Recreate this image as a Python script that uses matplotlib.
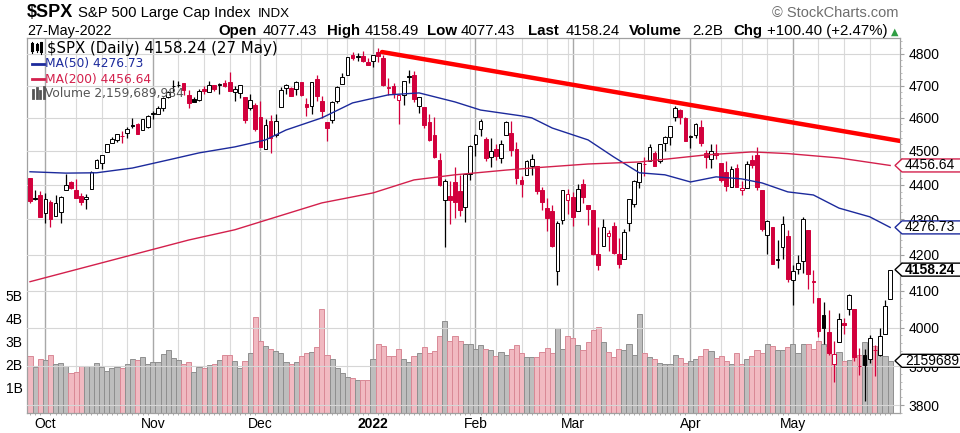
import matplotlib
matplotlib.use('Agg')
import matplotlib.pyplot as plt
from matplotlib.patches import Polygon
from matplotlib.lines import Line2D
from matplotlib.ticker import FixedLocator, NullFormatter
import numpy as np
import pandas as pd

W, H = 960, 433
PLOT_L, PLOT_R, PLOT_T, PLOT_B = 27, 900, 38, 413

# trading days shown (NYSE holidays removed)
HOLIDAYS = ['2021-11-25', '2021-12-24', '2022-01-17', '2022-02-21', '2022-04-15']
dates = pd.bdate_range('2021-09-28', '2022-05-27')
dates = dates[~dates.isin(pd.to_datetime(HOLIDAYS))]

opens = [4419.54, 4362.41, 4370.67, 4317.16, 4348.84, 4309.87, 4319.57, 4383.73, 4406.51, 4385.44,
         4368.31, 4358.01, 4386.75, 4447.69, 4463.72, 4497.34, 4524.42, 4532.24, 4546.12, 4553.69,
         4578.69, 4580.22, 4562.84, 4572.87, 4610.62, 4613.34, 4630.65, 4662.93, 4699.26, 4701.48,
         4707.25, 4670.26, 4659.39, 4655.24, 4689.30, 4679.42, 4701.50, 4700.72, 4708.44, 4712.00,
         4678.48, 4675.78, 4664.63, 4628.75, 4640.25, 4602.82, 4504.73, 4589.49, 4548.37, 4631.97,
         4690.86, 4691.00, 4687.64, 4710.30, 4642.99, 4636.46, 4719.13, 4652.50, 4587.90, 4594.96,
         4650.36, 4703.96, 4733.99, 4795.49, 4788.64, 4794.23, 4775.21, 4778.14, 4804.51, 4787.99,
         4693.39, 4697.66, 4655.34, 4669.14, 4728.59, 4733.56, 4637.99, 4632.24, 4588.03, 4547.35,
         4471.38, 4356.32, 4366.64, 4408.43, 4380.58, 4336.19, 4431.79, 4519.57, 4566.39, 4535.41,
         4482.79, 4505.75, 4480.02, 4547.00, 4553.24, 4506.27, 4412.61, 4429.28, 4455.75, 4456.06,
         4384.57, 4332.74, 4324.93, 4155.77, 4298.38, 4354.17, 4363.14, 4322.56, 4401.31, 4342.12,
         4327.01, 4202.66, 4223.10, 4252.55, 4279.50, 4202.75, 4188.82, 4288.14, 4345.11, 4407.34,
         4462.40, 4469.10, 4493.10, 4469.98, 4522.66, 4541.09, 4602.86, 4624.20, 4599.02, 4540.32,
         4547.97, 4572.45, 4494.17, 4474.65, 4494.15, 4462.64, 4437.59, 4394.30, 4449.12, 4385.63,
         4390.63, 4472.26, 4489.17, 4385.83, 4255.34, 4278.14, 4186.52, 4222.58, 4253.75, 4130.61,
         4159.78, 4181.18, 4270.43, 4128.17, 4081.27, 4035.18, 3990.08, 3903.95, 3963.90, 4013.02,
         4052.00, 4051.98, 3899.00, 3927.76, 3919.42, 3942.94, 3929.59, 3984.60, 4077.43]
highs = [4419.54, 4385.57, 4382.55, 4375.19, 4355.51, 4369.23, 4365.57, 4429.97, 4412.02, 4415.88,
         4374.89, 4372.87, 4439.73, 4475.82, 4488.75, 4520.40, 4540.87, 4551.44, 4559.67, 4572.62,
         4598.53, 4584.57, 4597.55, 4608.08, 4620.34, 4635.15, 4663.46, 4683.00, 4718.50, 4714.92,
         4708.53, 4684.85, 4664.55, 4688.47, 4697.42, 4714.95, 4701.50, 4708.80, 4717.75, 4743.83,
         4699.39, 4702.87, 4664.63, 4672.95, 4646.02, 4652.94, 4595.46, 4608.03, 4612.60, 4694.04,
         4705.06, 4695.26, 4713.57, 4710.30, 4660.47, 4712.60, 4731.99, 4666.70, 4587.90, 4651.14,
         4697.67, 4740.74, 4791.49, 4807.02, 4804.06, 4808.93, 4786.83, 4796.64, 4818.62, 4797.70,
         4725.01, 4707.95, 4673.02, 4714.13, 4748.83, 4744.13, 4665.13, 4632.24, 4611.55, 4602.11,
         4494.52, 4417.35, 4411.01, 4453.23, 4428.74, 4432.72, 4516.89, 4550.49, 4595.31, 4542.88,
         4539.66, 4521.86, 4531.32, 4590.03, 4588.92, 4526.33, 4426.22, 4472.77, 4489.55, 4456.06,
         4394.60, 4362.12, 4341.51, 4294.73, 4385.34, 4388.84, 4378.45, 4401.48, 4416.78, 4342.12,
         4327.01, 4276.94, 4299.40, 4268.28, 4291.01, 4247.57, 4271.05, 4357.86, 4412.67, 4465.40,
         4481.75, 4522.00, 4501.07, 4520.58, 4546.03, 4575.65, 4637.30, 4627.77, 4603.07, 4548.70,
         4583.50, 4593.45, 4503.94, 4521.16, 4520.41, 4464.35, 4471.00, 4453.92, 4460.46, 4410.31,
         4471.03, 4488.29, 4512.94, 4385.83, 4299.02, 4278.14, 4240.71, 4308.45, 4269.68, 4169.81,
         4200.10, 4307.66, 4270.43, 4157.69, 4081.27, 4068.82, 4049.09, 3964.80, 4038.88, 4026.97,
         4090.72, 4051.98, 3945.96, 3943.42, 3981.88, 3955.68, 3999.33, 4075.14, 4158.49]
lows = [4346.33, 4355.08, 4306.24, 4288.52, 4278.94, 4309.87, 4290.49, 4383.73, 4386.22, 4360.59,
        4342.09, 4329.92, 4386.75, 4447.69, 4447.47, 4496.41, 4524.40, 4526.89, 4524.00, 4537.36,
        4569.17, 4551.66, 4562.84, 4567.59, 4595.06, 4613.34, 4621.19, 4662.59, 4681.32, 4694.39,
        4670.87, 4630.86, 4648.31, 4650.77, 4672.86, 4679.42, 4684.41, 4672.78, 4694.22, 4682.17,
        4652.66, 4659.89, 4585.43, 4625.26, 4560.00, 4510.27, 4504.73, 4495.12, 4540.51, 4631.97,
        4674.52, 4665.98, 4670.24, 4667.60, 4606.52, 4611.22, 4651.89, 4600.22, 4531.10, 4583.16,
        4645.53, 4703.96, 4733.99, 4780.04, 4778.08, 4775.33, 4765.75, 4758.17, 4774.27, 4699.44,
        4671.26, 4662.74, 4582.24, 4638.27, 4706.71, 4650.29, 4614.75, 4568.70, 4530.20, 4477.95,
        4395.34, 4222.62, 4287.11, 4304.80, 4309.50, 4292.46, 4414.02, 4483.53, 4544.32, 4470.39,
        4451.50, 4471.47, 4465.40, 4547.00, 4484.31, 4401.41, 4364.84, 4429.28, 4429.68, 4373.81,
        4327.22, 4267.11, 4221.51, 4114.65, 4286.83, 4315.12, 4279.54, 4322.56, 4345.56, 4284.98,
        4199.85, 4157.87, 4223.10, 4209.80, 4200.49, 4161.72, 4187.90, 4267.92, 4335.65, 4390.57,
        4424.30, 4469.10, 4455.81, 4465.17, 4501.07, 4517.69, 4589.66, 4581.32, 4530.41, 4507.57,
        4539.21, 4514.17, 4450.04, 4450.30, 4474.60, 4408.38, 4381.34, 4392.70, 4392.59, 4370.30,
        4390.63, 4448.76, 4384.47, 4267.62, 4200.82, 4175.04, 4162.90, 4188.63, 4124.28, 4062.51,
        4147.08, 4148.91, 4106.01, 4067.91, 3975.48, 3958.17, 3928.82, 3858.87, 3963.90, 3983.99,
        4033.93, 3911.91, 3876.58, 3810.32, 3909.04, 3875.13, 3925.03, 3984.60, 4077.43]
closes = [4352.63, 4359.46, 4307.54, 4357.04, 4300.46, 4345.72, 4363.55, 4399.76, 4391.34, 4361.19,
          4350.65, 4363.80, 4438.26, 4471.37, 4486.46, 4519.63, 4536.19, 4549.78, 4544.90, 4566.48,
          4574.79, 4551.68, 4596.42, 4605.38, 4613.67, 4630.65, 4660.57, 4680.06, 4697.53, 4701.70,
          4685.25, 4646.71, 4649.27, 4682.85, 4682.80, 4700.90, 4688.67, 4704.54, 4697.96, 4682.94,
          4690.70, 4701.46, 4594.62, 4655.27, 4567.00, 4513.04, 4577.10, 4538.43, 4591.67, 4686.75,
          4701.21, 4667.45, 4712.02, 4668.97, 4634.09, 4709.85, 4668.67, 4620.64, 4568.02, 4649.23,
          4696.56, 4725.79, 4791.19, 4786.35, 4793.06, 4778.73, 4766.18, 4796.56, 4793.54, 4700.58,
          4696.05, 4677.03, 4670.29, 4713.07, 4726.35, 4659.03, 4662.85, 4577.11, 4532.76, 4482.73,
          4397.94, 4410.13, 4356.45, 4349.93, 4326.51, 4431.85, 4515.55, 4546.54, 4589.38, 4477.44,
          4500.53, 4483.87, 4521.54, 4587.18, 4504.08, 4418.64, 4401.67, 4471.07, 4475.01, 4380.26,
          4348.87, 4304.76, 4225.50, 4288.70, 4384.65, 4373.94, 4306.26, 4386.54, 4363.49, 4328.87,
          4201.09, 4170.70, 4277.88, 4259.52, 4204.31, 4173.11, 4262.45, 4357.86, 4411.67, 4463.12,
          4461.18, 4511.61, 4456.24, 4520.16, 4543.06, 4575.52, 4631.60, 4602.45, 4530.41, 4545.86,
          4582.64, 4525.12, 4481.15, 4500.21, 4488.28, 4412.53, 4397.45, 4446.59, 4392.59, 4391.69,
          4462.21, 4459.45, 4393.66, 4271.78, 4296.12, 4175.20, 4183.96, 4287.50, 4131.93, 4155.38,
          4175.48, 4300.17, 4146.87, 4123.34, 3991.24, 4001.05, 3935.18, 3930.08, 4023.89, 4008.01,
          4088.85, 3923.68, 3900.79, 3901.36, 3973.75, 3941.48, 3978.73, 4057.84, 4158.24]
# volume in billions of shares
volume_b = [2.38, 1.88, 2.26, 2.19, 2.43, 2.00, 2.07, 1.95, 1.64, 1.68,
            1.94, 1.94, 1.94, 2.06, 1.90, 1.71, 1.83, 1.88, 1.83, 2.00,
            2.26, 2.20, 2.32, 2.00, 2.12, 2.12, 2.45, 2.62, 2.30, 2.19,
            2.04, 2.12, 1.68, 1.88, 1.83, 1.96, 2.04, 2.20, 2.43, 2.43,
            2.17, 1.83, 2.14, 2.51, 4.07, 3.04, 2.80, 2.68, 2.57, 2.51,
            2.12, 2.00, 2.12, 2.39, 2.51, 2.55, 2.75, 4.43, 2.43, 2.26,
            1.83, 1.64, 1.46, 1.42, 1.32, 1.32, 1.32, 2.26, 2.87, 2.80,
            2.36, 2.36, 2.68, 2.26, 2.12, 2.39, 2.51, 2.75, 2.51, 2.57,
            3.23, 3.91, 3.04, 3.23, 3.04, 2.91, 2.91, 2.68, 2.84, 2.68,
            2.61, 2.36, 2.55, 2.42, 2.68, 2.84, 2.49, 2.32, 2.32, 2.32,
            2.54, 2.72, 2.51, 3.59, 2.68, 3.23, 3.16, 2.84, 2.61, 2.97,
            3.48, 3.64, 2.97, 2.54, 2.32, 2.68, 2.61, 2.91, 2.43, 4.20,
            2.49, 2.32, 2.22, 2.07, 2.00, 2.00, 2.43, 2.30, 2.07, 2.17,
            2.26, 2.36, 2.68, 2.58, 2.29, 2.39, 2.17, 2.04, 2.51, 2.00,
            2.26, 2.39, 2.61, 2.51, 2.87, 2.80, 2.61, 2.61, 2.75, 2.87,
            2.48, 2.87, 2.87, 2.68, 3.04, 2.87, 2.75, 2.43, 2.55, 2.17,
            2.19, 2.43, 2.43, 2.97, 2.72, 2.80, 2.58, 2.36, 2.16]

# moving averages (bar index, value)
ma50_idx = [0, 7, 13, 20, 27, 33, 40, 46, 50, 57, 63, 70, 76, 83, 88, 96, 98, 102,
            109, 114, 119, 124, 129, 134, 139, 143, 148, 153, 158, 164, 168]
ma50_val = [4438, 4434, 4435, 4449, 4473, 4494, 4512, 4533, 4563, 4600, 4646, 4671, 4677, 4649,
            4624, 4606, 4600, 4569, 4533, 4482, 4435, 4429, 4408, 4423, 4417, 4405, 4379, 4370,
            4332, 4307, 4276.73]
ma200_idx = [0, 14, 31, 40, 57, 67, 75, 83, 93, 98, 109, 119, 132, 141, 148, 158, 168]
ma200_val = [4125, 4177, 4241, 4270, 4347, 4376, 4414, 4429, 4443, 4449, 4461, 4467, 4488,
             4497, 4492, 4479, 4456.64]

# hand-drawn resistance line
trend_idx = [68.75, 169.9]
trend_val = [4806, 4530]

price_ticks = [3800, 3900, 4000, 4100, 4200, 4300, 4400, 4500, 4600, 4700, 4800]
vol_ticks = [1, 2, 3, 4, 5]
vol_tick_labels = ['1B', '2B', '3B', '4B', '5B']

RED = '#d2003c'
BLUE = '#1c2a9c'
CRIMSON = '#d3204c'


def fx(px):
    return px / W


def fy(py):
    return 1 - py / H


n = len(closes)
x = np.arange(n)
prev_close = [4443.11] + closes[:-1]
down = [c < p for c, p in zip(closes, prev_close)]

fig = plt.figure(figsize=(W / 100, H / 100), dpi=100)
rect = [fx(PLOT_L), fy(PLOT_B), (PLOT_R - PLOT_L) / W, (PLOT_B - PLOT_T) / H]
ax_v = fig.add_axes(rect)
ax = fig.add_axes(rect, sharex=ax_v)
ax.patch.set_visible(False)

xlim = (-0.586, 169.92)
ax_v.set_xlim(*xlim)
ax_v.set_ylim(-0.109, 16.196)
ax.set_yscale('log')
ax.set_ylim(3780, 4851)

# grid: weekly + month lines
month_start = [i for i in range(1, n) if dates[i].month != dates[i - 1].month]
week_start = [i for i in range(1, n)
              if dates[i].isocalendar()[1] != dates[i - 1].isocalendar()[1]
              and i not in month_start and (i - 1) not in month_start]
for i in week_start:
    ax_v.axvline(i, color='#dadada', lw=0.8, zorder=0)
for i in month_start:
    ax_v.axvline(i, color='#a8a8a8', lw=1.0, zorder=0)
for p in price_ticks:
    ax.axhline(p, color='#d6d6d6', lw=0.8, zorder=0)

# volume
vol_face = ['#f1b9c1' if d else '#bdbdbd' for d in down]
vol_edge = ['#d98996' if d else '#8f8f8f' for d in down]
ax_v.bar(x, np.array(volume_b) + 0.109, bottom=-0.109, width=1.0, color=vol_face,
         edgecolor=vol_edge, linewidth=0.7, zorder=2)

# candles
col = [RED if d else 'black' for d in down]
ax.vlines(x, lows, highs, colors=col, lw=0.9, zorder=3)
body_lo = np.minimum(opens, closes)
body_hi = np.maximum(opens, closes)
face = [c if cl < o else 'white' for c, o, cl in zip(col, opens, closes)]
ax.bar(x, body_hi - body_lo, bottom=body_lo, width=0.72, color=face, edgecolor=col,
       linewidth=0.7, zorder=4)

ax.plot(ma50_idx, ma50_val, color=BLUE, lw=1.0, zorder=5)
ax.plot(ma200_idx, ma200_val, color=CRIMSON, lw=1.0, zorder=5)
ax.plot(trend_idx, trend_val, color='#ff0000', lw=3.2, solid_capstyle='round', zorder=6,
        clip_on=True)

# axes styling
for s in ax.spines.values():
    s.set_visible(False)
for s in ax_v.spines.values():
    s.set_color('#a0a0a0')
    s.set_linewidth(0.9)

ax.yaxis.tick_right()
ax.yaxis.set_major_locator(FixedLocator(price_ticks))
ax.yaxis.set_minor_locator(FixedLocator(list(range(3780, 4860, 20))))
ax.yaxis.set_major_formatter(matplotlib.ticker.FixedFormatter([str(p) for p in price_ticks]))
ax.yaxis.set_minor_formatter(NullFormatter())
ax.tick_params(axis='y', which='major', length=3, color='#a0a0a0', pad=3, labelsize=10,
               labelfontfamily='Liberation Sans')
ax.tick_params(axis='y', which='minor', length=1.5, color='#b0b0b0')

ax_v.set_yticks(vol_ticks)
ax_v.set_yticklabels(vol_tick_labels, fontsize=10, family='Liberation Sans')
ax_v.tick_params(axis='y', length=0, pad=3)

ax_v.set_xticks(month_start)
ax_v.set_xticklabels(['Oct', 'Nov', 'Dec', '2022', 'Feb', 'Mar', 'Apr', 'May'],
                     fontsize=10, family='Liberation Sans')
for lab in ax_v.get_xticklabels():
    if lab.get_text() == '2022':
        lab.set_fontweight('bold')
ax_v.set_xticks(x, minor=True)
ax_v.tick_params(axis='x', which='major', length=0, pad=3)
ax_v.tick_params(axis='x', which='minor', length=1.5, color='#a0a0a0')
ax.tick_params(axis='x', which='both', length=0, labelbottom=False)


# value tags on the right
def tag(axis, value, text, color, bold=False):
    yd = axis.transData.transform((0, value))[1]
    yc = H - yd
    h = 6.5
    pts = [(895, yc), (902, yc - h), (965, yc - h), (965, yc + h), (902, yc + h)]
    fig.add_artist(Polygon([(fx(a), fy(b)) for a, b in pts], closed=True,
                           transform=fig.transFigure, fc='white', ec=color, lw=1.0,
                           zorder=5, clip_on=False))
    fig.text(fx(905), fy(yc), text, va='center', ha='left', fontsize=10,
             family='Liberation Sans', fontweight='bold' if bold else 'normal',
             color='black', zorder=6)


tag(ax, ma200_val[-1], '4456.64', CRIMSON)
tag(ax, ma50_val[-1], '4276.73', BLUE)
tag(ax, closes[-1], '4158.24', 'black', bold=True)
tag(ax_v, volume_b[-1], '2159689', 'black')

# header
fig.text(fx(27), fy(17), '$SPX', fontsize=13, fontweight='bold', family='Liberation Sans',
         va='baseline')
fig.text(fx(78), fy(17), 'S&P 500 Large Cap Index', fontsize=10.7, family='Liberation Sans',
         va='baseline')
fig.text(fx(258), fy(17), 'INDX', fontsize=9.6, family='Liberation Sans', va='baseline')
fig.text(fx(898), fy(17), '\u00a9 StockCharts.com', fontsize=10.5, family='Liberation Sans',
         color='#6e6e6e', ha='right', va='baseline')
fig.text(fx(27), fy(35), '27-May-2022', fontsize=10.4, family='Liberation Sans', va='baseline')

header = [(218, 'Open', True), (263, '4077.43', False), (327, 'High', True),
          (365, '4158.49', False), (427, 'Low', True), (461, '4077.43', False),
          (528, 'Last', True), (566, '4158.24', False), (629, 'Volume', True),
          (692, '2.2B', False), (733, 'Chg', True), (767, '+100.40 (+2.47%)', False)]
for px_, s, b in header:
    fig.text(fx(px_), fy(35), s, fontsize=10.8, family='Liberation Sans',
             fontweight='bold' if b else 'normal', va='baseline')
fig.text(fx(898), fy(35), '\u25b2', fontsize=7, family='DejaVu Sans', color='#2f9e44',
         ha='right', va='baseline')

# in-plot legend
fig.text(fx(47), fy(48), '$SPX (Daily) 4158.24 (27 May)', fontsize=10.8,
         family='DejaVu Sans', va='center')
fig.text(fx(45), fy(64), 'MA(50) 4276.73', fontsize=8.8, family='DejaVu Sans',
         color=BLUE, va='center')
fig.text(fx(45), fy(79), 'MA(200) 4456.64', fontsize=8.8, family='DejaVu Sans',
         color=CRIMSON, va='center')
fig.text(fx(45), fy(93.5), 'Volume 2,159,689,984', fontsize=8.8, family='DejaVu Sans',
         color='#555555', va='center')
fig.add_artist(Line2D([fx(32), fx(44)], [fy(64), fy(64)], color=BLUE, lw=2))
fig.add_artist(Line2D([fx(32), fx(44)], [fy(79), fy(79)], color=CRIMSON, lw=2))
# small candle icon
for cx, lo, hi, b0, b1 in [(32, 42, 53, 44, 50), (37, 43, 52, 45, 49), (41, 42, 54, 43, 51)]:
    fig.add_artist(Line2D([fx(cx), fx(cx)], [fy(lo), fy(hi)], color='black', lw=0.8))
    fig.add_artist(Line2D([fx(cx), fx(cx)], [fy(b0), fy(b1)], color='black', lw=2.2))
# small volume icon
for bx, top in [(33, 90), (36.5, 88), (40, 91), (43.5, 87)]:
    fig.add_artist(Line2D([fx(bx), fx(bx)], [fy(98), fy(top)], color='#555555', lw=2.0))

fig.savefig('out.png', dpi=100)
